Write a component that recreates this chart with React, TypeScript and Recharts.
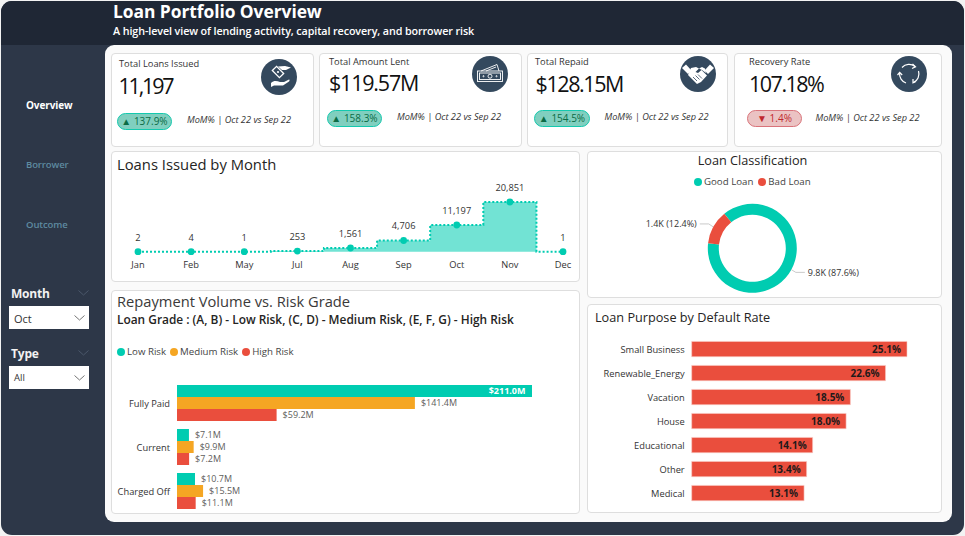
import React from 'react';
import {
  Area, AreaChart, Bar, BarChart, Cell, LabelList, Legend, Pie, PieChart, XAxis, YAxis,
} from 'recharts';

const months = ['Jan', 'Feb', 'May', 'Jul', 'Aug', 'Sep', 'Oct', 'Nov', 'Dec'];
const loansIssued = [2, 4, 1, 253, 1561, 4706, 11197, 20851, 1];

const loanStatus = ['Fully Paid', 'Current', 'Charged Off'];
const lowRisk = [211.0, 7.1, 10.7];
const mediumRisk = [141.4, 9.9, 15.5];
const highRisk = [59.2, 7.2, 11.1];

const loanClasses = ['Good Loan', 'Bad Loan'];
const loanClassCounts = [9810, 1387];

const purposes = ['Small Business', 'Renewable_Energy', 'Vacation', 'House', 'Educational', 'Other', 'Medical'];
const defaultRates = [25.1, 22.6, 18.5, 18.0, 14.1, 13.4, 13.1];

const FONT = '"Open Sans", sans-serif';
const TEAL = '#00CCB1';
const ORANGE = '#F5A623';
const RED = '#EA4E3D';
const DARK = '#252423';

const monthData = months.map((name, i) => ({ name, issued: loansIssued[i] }));
const repaymentData = loanStatus.map((name, i) => ({ name, low: lowRisk[i], medium: mediumRisk[i], high: highRisk[i] }));
const classData = loanClasses.map((name, i) => ({ name, value: loanClassCounts[i] }));
const purposeData = purposes.map((name, i) => ({ name, rate: defaultRates[i] }));

// text placed by its left edge and vertical centre
const T = ({ x, y, size, weight = 400, color = DARK, italic = false, spacing = 0, children }: any) => (
  <div
    style={{
      position: 'absolute', left: x, top: y, transform: 'translateY(-50%)', fontSize: size, fontWeight: weight,
      color, fontStyle: italic ? 'italic' : 'normal', letterSpacing: spacing, whiteSpace: 'nowrap', lineHeight: 1,
    }}
  >
    {children}
  </div>
);

const Card = ({ x, y, right, bottom }: any) => (
  <div
    style={{
      position: 'absolute', left: x, top: y, width: right - x, height: bottom - y, boxSizing: 'border-box',
      background: '#fff', border: '1.5px solid #DEDEDE', borderRadius: 4,
    }}
  />
);

const Chevron = ({ x, y, color }: any) => (
  <svg style={{ position: 'absolute', left: x, top: y }} width={11} height={6}>
    <polyline points="0.5,0.5 5.5,5 10.5,0.5" fill="none" stroke={color} strokeWidth={0.9} />
  </svg>
);

const Dropdown = ({ y, text, size }: any) => (
  <>
    <div style={{ position: 'absolute', left: 8.5, top: y, width: 80.5, height: 23, background: '#fff' }} />
    <T x={14} y={y + 12} size={size} color="#333">{text}</T>
    <Chevron x={74} y={y + 9} color="#666" />
  </>
);

const IconCircle = ({ x, y, children }: any) => (
  <svg style={{ position: 'absolute', left: x - 18, top: y - 18 }} width={36} height={36} viewBox="0 0 36 36">
    <circle cx={18} cy={18} r={18} fill="#34495E" />
    {children}
  </svg>
);

const LoanIcon = () => (
  <g>
    <path d="M10 24 C13 21 16 22 19 23 L23 23 L28 20.5 C29 20.5 28.5 22 28 22.5 L22 26.5 L13 26.5 L10 28 Z" fill="#fff" />
    <path d="M17 7.5 L24 7 L30 8.5 L25 11 L21 11 Z" fill="#fff" />
    <rect x={12} y={10} width={10} height={6} transform="rotate(45 17 13)" fill="none" stroke="#fff" strokeWidth={1.3} />
    <circle cx={17} cy={13} r={1.1} fill="#fff" />
  </g>
);

const CashIcon = () => (
  <g fill="none" stroke="#fff" strokeWidth={0.9}>
    <rect x={5.5} y={15} width={25} height={10.5} />
    <rect x={7.5} y={17} width={21} height={6.5} />
    <circle cx={18} cy={20.2} r={2} />
    <circle cx={11.5} cy={20.2} r={0.6} />
    <circle cx={24.5} cy={20.2} r={0.6} />
    <polyline points="9,15 25,8.5 27,15" />
    <polyline points="14,15 24,11" />
  </g>
);

const HandshakeIcon = () => (
  <g>
    <path d="M2 12 L6 8.5 L11.5 14.5 L8 18 Z" fill="#fff" />
    <path d="M34 12 L30 8.5 L24.5 14.5 L28 18 Z" fill="#fff" />
    <path d="M11 12 L16 11 L19 12.5 L15.5 16 L18 17 L21.5 14 L27 19.5 L21 26 L17 28 L8 19 Z" fill="#fff" />
    <path d="M19 12.5 L22 11 L25 12.5 L26 17 L22 14 Z" fill="#fff" />
    <path d="M13 21 L17 25 M15.5 19.5 L19.5 23.5 M18 18.5 L22 22.5" stroke="#34495E" strokeWidth={0.8} />
  </g>
);

const CycleIcon = () => (
  <g fill="none" stroke="#fff" strokeWidth={1.2}>
    <path d="M11 11.5 A9.5 9.5 0 0 1 24 10.5" />
    <path d="M27.5 15 A9.5 9.5 0 0 1 22.5 26.5" />
    <path d="M15 27 A9.5 9.5 0 0 1 8.6 17" />
    <polyline points="21.5,8 24.5,10.8 21,12.5" />
    <polyline points="25,25.5 22,26.8 22,23" />
    <polyline points="6.5,19 8.7,16.5 11.2,19" />
  </g>
);

const Badge = ({ x, y, width, text, down = false }: any) => (
  <div
    style={{
      position: 'absolute', left: x, top: y, width, height: 17, boxSizing: 'border-box', borderRadius: 9,
      background: down ? '#EBC3C3' : '#80CFBF', border: `0.8px solid ${down ? '#D9737A' : '#14C9AE'}`,
      color: down ? '#C0272D' : '#0B6B45', fontSize: 10, fontWeight: 500, lineHeight: '15px', textAlign: 'center', whiteSpace: 'nowrap',
    }}
  >
    {down ? '▼' : '▲'} {text}
  </div>
);

const DotLegend = ({ payload, gap }: any) => (
  <div style={{ display: 'flex', fontFamily: FONT, fontSize: 9.7, color: '#444', lineHeight: '10px' }}>
    {(payload || []).map((p: any) => (
      <div key={p.value} style={{ display: 'flex', alignItems: 'center', marginRight: gap, whiteSpace: 'nowrap' }}>
        <span style={{ width: 8, height: 8, borderRadius: 4, background: p.color, marginRight: 2 }} />
        {p.value}
      </div>
    ))}
  </div>
);

// category labels on one line, the default tick wraps them
const CategoryTick = ({ x, y, payload }: any) => (
  <text x={x + 1} y={y} textAnchor="end" dominantBaseline="central" fontFamily={FONT} fontSize={9.3} fill="#333">
    {payload.value}
  </text>
);

// $ labels: outside the bar, except the one long bar that holds its own
const RepaymentLabel = ({ x, y, width, height, value }: any) => {
  const inside = width > 300;
  return (
    <text
      x={inside ? x + width - 6.5 : x + width + 6}
      y={y + height / 2 - 0.5}
      textAnchor={inside ? 'end' : 'start'}
      dominantBaseline="central"
      fontFamily={FONT}
      fontSize={9}
      fontWeight={inside ? 700 : 400}
      fill={inside ? '#fff' : '#605E5C'}
    >
      ${value.toFixed(1)}M
    </text>
  );
};

const DonutLabel = ({ cx, cy, midAngle, outerRadius, value, percent }: any) => {
  const rad = (-midAngle * Math.PI) / 180;
  const px = cx + outerRadius * Math.cos(rad);
  const py = cy + outerRadius * Math.sin(rad);
  const side = px > cx ? 1 : -1;
  const ex = px + side * 4.5;
  const ey = py + (side > 0 ? 2.7 : -3);
  const tx = ex + side * 9;
  return (
    <g>
      <polyline points={`${px},${py} ${ex},${ey} ${tx},${ey}`} fill="none" stroke="#BDBDBD" strokeWidth={0.8} />
      <text
        x={tx + side * 3}
        y={ey}
        textAnchor={side > 0 ? 'start' : 'end'}
        dominantBaseline="central"
        fontFamily={FONT}
        fontSize={9}
        fill="#333"
      >
        {(value / 1000).toFixed(1)}K ({(percent * 100).toFixed(1)}%)
      </text>
    </g>
  );
};

const axisTick = { fontSize: 9.3, fill: '#333', fontFamily: FONT };

export default function App() {
  return (
    <div style={{ position: 'absolute', left: 0, top: 0, width: 965, height: 536, background: '#F3F3F3', overflow: 'hidden', fontFamily: FONT }}>
      {/* frame */}
      <div style={{ position: 'absolute', left: 1, top: 1, width: 963, height: 533.5, background: '#2D3748', borderRadius: 11, overflow: 'hidden' }}>
        <div style={{ position: 'absolute', left: 0, top: 0, width: 963, height: 44, background: '#1F2735' }} />
      </div>
      <T x={113} y={12} size={17.4} weight={700} color="#fff" spacing={-0.05}>Loan Portfolio Overview</T>
      <T x={113} y={31} size={10.75} weight={600} color="#fff" spacing={-0.1}>A high-level view of lending activity, capital recovery, and borrower risk</T>

      {/* side nav */}
      <T x={26} y={105} size={10} weight={700} color="#fff" spacing={-0.1}>Overview</T>
      <T x={26} y={164.5} size={9.5} weight={600} color="#5E8AA0" spacing={-0.1}>Borrower</T>
      <T x={26} y={225} size={9.5} weight={600} color="#5E8AA0" spacing={-0.1}>Outcome</T>
      <T x={11} y={294} size={12} weight={700} color="#F2F2F2" spacing={-0.2}>Month</T>
      <Chevron x={78} y={290} color="#4F5B6E" />
      <Dropdown y={306} text="Oct" size={11} />
      <T x={11} y={354} size={12} weight={700} color="#F2F2F2" spacing={-0.2}>Type</T>
      <Chevron x={78} y={350} color="#4F5B6E" />
      <Dropdown y={366} text="All" size={9.5} />

      {/* main panel */}
      <div style={{ position: 'absolute', left: 105, top: 45, width: 847, height: 477, background: '#FAFAFA', borderRadius: 9 }} />

      {/* KPI cards */}
      <Card x={110.5} y={52.5} right={313.5} bottom={147} />
      <T x={119} y={64} size={9.3} color="#333">Total Loans Issued</T>
      <T x={118.5} y={86} size={21.5} color="#111" spacing={-2.2}>11,197</T>
      <Badge x={117} y={113} width={55} text="137.9%" />
      <T x={187} y={120} size={9.2} italic color="#333">MoM% | Oct 22 vs Sep 22</T>
      <IconCircle x={279} y={77}><LoanIcon /></IconCircle>

      <Card x={319} y={52.5} right={521.5} bottom={147} />
      <T x={329} y={61.5} size={9.3} color="#333">Total Amount Lent</T>
      <T x={329} y={83} size={21.5} color="#111" spacing={-1.2}>$119.57M</T>
      <Badge x={327} y={110} width={55} text="158.3%" />
      <T x={397} y={117} size={9.2} italic color="#333">MoM% | Oct 22 vs Sep 22</T>
      <IconCircle x={490} y={74}><CashIcon /></IconCircle>

      <Card x={526.5} y={52.5} right={728} bottom={147} />
      <T x={535} y={62} size={9.3} color="#333">Total Repaid</T>
      <T x={535.5} y={84} size={21.5} color="#111" spacing={-1.4}>$128.15M</T>
      <Badge x={534} y={110} width={56} text="154.5%" />
      <T x={604.5} y={117} size={9.2} italic color="#333">MoM% | Oct 22 vs Sep 22</T>
      <IconCircle x={698} y={74}><HandshakeIcon /></IconCircle>

      <Card x={734} y={52.5} right={942} bottom={147} />
      <T x={749} y={62} size={9.3} color="#333">Recovery Rate</T>
      <T x={749} y={84} size={21.5} color="#111" spacing={-1.5}>107.18%</T>
      <Badge x={747} y={110} width={55} text="1.4%" down />
      <T x={815.5} y={118} size={9.2} italic color="#333">MoM% | Oct 22 vs Sep 22</T>
      <IconCircle x={909} y={74}><CycleIcon /></IconCircle>

      {/* loans by month */}
      <Card x={111} y={150.5} right={579.5} bottom={281.5} />
      <T x={117} y={163.5} size={14.8} weight={500}>Loans Issued by Month</T>
      <div style={{ position: 'absolute', left: 111, top: 151 }}>
        <AreaChart width={468} height={130} data={monthData} margin={{ top: 51, right: 16, bottom: 0, left: 27 }}>
          <XAxis dataKey="name" height={29.3} axisLine={false} tickLine={false} tick={axisTick} tickMargin={4} interval={0} />
          <YAxis hide domain={[0, 20851]} />
          <Area
            type="step"
            dataKey="issued"
            stroke={TEAL}
            strokeWidth={2}
            strokeDasharray="2 2"
            fill="#72E3D4"
            fillOpacity={1}
            dot={{ r: 3.4, fill: TEAL, stroke: 'none', strokeDasharray: 'none', fillOpacity: 1 }}
            isAnimationActive={false}
          >
            <LabelList
              dataKey="issued"
              position="top"
              offset={11}
              formatter={(v: number) => v.toLocaleString('en-US')}
              style={{ fontSize: 9.3, fill: '#333', fontFamily: FONT }}
            />
          </Area>
        </AreaChart>
      </div>

      {/* repayment */}
      <Card x={111} y={289.5} right={579.5} bottom={513.5} />
      <T x={117} y={300.5} size={14.7} weight={500} color="#3B3A39">Repayment Volume vs. Risk Grade</T>
      <T x={117} y={320} size={11.9} weight={600}>Loan Grade : (A, B) - Low Risk, (C, D) - Medium Risk, (E, F, G) - High Risk</T>
      <div style={{ position: 'absolute', left: 111, top: 290 }}>
        <BarChart
          width={468}
          height={224}
          layout="vertical"
          data={repaymentData}
          margin={{ top: 91, right: 47, bottom: 1, left: 0 }}
          barSize={12}
          barGap={0}
        >
          <XAxis type="number" hide domain={[0, 211]} />
          <YAxis type="category" dataKey="name" width={66} axisLine={false} tickLine={false} tick={CategoryTick} interval={0} />
          <Legend
            layout="horizontal"
            align="center"
            verticalAlign="middle"
            itemSorter={null}
            wrapperStyle={{ left: 6, top: 57, width: 300 }}
            content={(p: any) => <DotLegend payload={p.payload} gap={4} />}
          />
          <Bar dataKey="low" name="Low Risk" fill={TEAL} isAnimationActive={false}>
            <LabelList dataKey="low" content={RepaymentLabel} />
          </Bar>
          <Bar dataKey="medium" name="Medium Risk" fill={ORANGE} isAnimationActive={false}>
            <LabelList dataKey="medium" content={RepaymentLabel} />
          </Bar>
          <Bar dataKey="high" name="High Risk" fill={RED} isAnimationActive={false}>
            <LabelList dataKey="high" content={RepaymentLabel} />
          </Bar>
        </BarChart>
      </div>

      {/* classification donut */}
      <Card x={586.5} y={150.5} right={942} bottom={297.5} />
      <div style={{ position: 'absolute', left: 587, top: 154, width: 331, textAlign: 'center', fontSize: 12.7, fontWeight: 500, color: DARK, lineHeight: '13px' }}>
        Loan Classification
      </div>
      <div style={{ position: 'absolute', left: 587, top: 151 }}>
        <PieChart width={354} height={146} margin={{ top: 0, right: 0, bottom: 0, left: 0 }}>
          <Legend
            layout="horizontal"
            align="center"
            verticalAlign="middle"
            itemSorter={null}
            wrapperStyle={{ left: 107, top: 26, width: 200 }}
            content={(p: any) => <DotLegend payload={p.payload} gap={5} />}
          />
          <Pie
            data={classData}
            dataKey="value"
            nameKey="name"
            cx={165.3}
            cy={97.3}
            innerRadius={33.5}
            outerRadius={44.5}
            startAngle={129}
            endAngle={-231}
            stroke="none"
            label={DonutLabel}
            labelLine={false}
            isAnimationActive={false}
          >
            <Cell fill={TEAL} />
            <Cell fill={RED} />
          </Pie>
        </PieChart>
      </div>

      {/* purpose */}
      <Card x={586.5} y={304} right={942} bottom={513} />
      <T x={595} y={316.5} size={12.7} weight={500}>Loan Purpose by Default Rate</T>
      <div style={{ position: 'absolute', left: 587, top: 304 }}>
        <BarChart
          width={354}
          height={209}
          layout="vertical"
          data={purposeData}
          margin={{ top: 33.4, right: 34, bottom: 7.6, left: 0 }}
          barSize={15.3}
        >
          <XAxis type="number" hide domain={[0, 25.1]} />
          <YAxis type="category" dataKey="name" width={104.7} axisLine={false} tickLine={false} tick={CategoryTick} interval={0} />
          <Bar dataKey="rate" fill={RED} stroke="#F9CDC8" strokeWidth={0.6} isAnimationActive={false}>
            <LabelList
              dataKey="rate"
              position="insideRight"
              offset={6}
              formatter={(v: number) => `${v.toFixed(1)}%`}
              style={{ fontSize: 10, fontWeight: 700, fill: '#1F1A1A', fontFamily: FONT }}
            />
          </Bar>
        </BarChart>
      </div>
    </div>
  );
}
